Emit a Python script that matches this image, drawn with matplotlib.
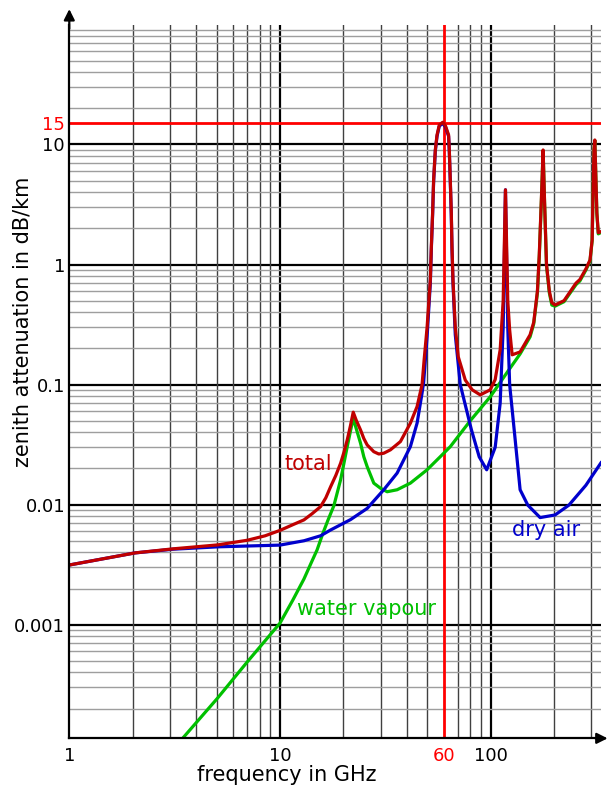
import matplotlib
matplotlib.use("Agg")
import matplotlib.pyplot as plt
from matplotlib.ticker import LogLocator, NullFormatter, FixedLocator

# ---- data (frequency in GHz, attenuation in dB/km) ----
total_f = [1.0, 2.05, 3.1, 5.07, 7.0, 8.5, 10.0, 11.5, 12.99, 14.2, 15.58, 16.5, 17.39,
           18.4, 19.39, 20.1, 20.85, 21.6, 22.26, 23.0, 24.11, 25.0, 25.93, 27.87, 29.43,
           31.08, 33.43, 37.28, 41.57, 44.73, 47.23, 48.3, 49.9, 51.7, 52.27, 53.0, 53.59,
           54.59, 55.62, 57.0, 59.13, 61.0, 63.12, 63.61, 64.3, 65.01, 65.5, 66.22, 67.9,
           70.17, 75.74, 81.73, 89.18, 99.46, 105.0, 110.9, 114.6, 117.5, 120.5, 123.0,
           126.4, 137.9, 153.8, 160.0, 166.6, 170.0, 174.0, 177.3, 180.0, 184.0, 189.8,
           195.0, 202.0, 222.8, 254.0, 265.0, 283.0, 296.0, 303.0, 306.0, 309.0, 312.0,
           315.0, 319.0, 324.0, 333.7]
total_v = [0.00314, 0.00396, 0.00428, 0.00462, 0.00505, 0.0055, 0.0061, 0.0068, 0.00746,
           0.0084, 0.00962, 0.0114, 0.0141, 0.0175, 0.0221, 0.0272, 0.0346, 0.0455, 0.0589,
           0.0505, 0.0419, 0.0355, 0.0314, 0.0276, 0.0264, 0.0268, 0.0286, 0.0335, 0.0477,
           0.0656, 0.1, 0.16, 0.3, 0.746, 1.41, 2.7, 5.08, 9.0, 12.0, 14.5, 15.3, 14.3,
           12.0, 9.0, 5.08, 2.7, 1.41, 0.746, 0.3, 0.17, 0.109, 0.0904, 0.0821, 0.0904,
           0.11, 0.195, 0.5, 4.19, 0.5, 0.286, 0.177, 0.187, 0.26, 0.33, 0.6, 1.2, 3.5, 9.0,
           3.5, 1.0, 0.6, 0.48, 0.46, 0.5, 0.7, 0.75, 0.92, 1.09, 1.6, 4.0, 9.0, 10.9, 6.0,
           2.7, 1.84, 1.88]

dry_f = [1.0, 2.05, 3.1, 5.07, 10.0, 13.0, 15.58, 17.39, 21.61, 25.93, 31.08, 35.96,
         41.57, 44.73, 47.23, 48.07, 49.9, 51.7, 52.27, 53.0, 53.59, 54.59, 55.62, 57.0,
         59.13, 61.0, 63.12, 63.61, 64.3, 65.01, 65.5, 66.22, 67.9, 71.7, 81.0, 88.2, 95.7,
         105.0, 110.9, 114.6, 117.5, 120.5, 123.0, 130.6, 137.9, 150.0, 171.6, 202.0,
         235.0, 283.0, 333.7]
dry_v = [0.00314, 0.00396, 0.00425, 0.00445, 0.0046, 0.0050, 0.0055, 0.00615, 0.0075,
         0.0093, 0.0133, 0.0183, 0.0304, 0.0477, 0.085, 0.105, 0.25, 0.7, 1.35, 2.6, 4.9,
         8.8, 11.7, 14.2, 15.0, 14.0, 11.7, 8.8, 4.9, 2.6, 1.35, 0.7, 0.26, 0.1, 0.042,
         0.025, 0.0195, 0.03, 0.07, 0.3, 4.19, 0.3, 0.1, 0.035, 0.0133, 0.0099, 0.0078,
         0.0082, 0.0099, 0.0145, 0.0223]

wv_f = [3.3, 3.45, 5.05, 7.01, 10.0, 11.5, 12.99, 14.2, 15.0, 16.0, 16.88, 18.02, 19.39,
        20.1, 20.85, 21.6, 22.26, 23.0, 24.11, 25.0, 25.93, 27.87, 29.98, 32.25, 35.96,
        41.57, 49.88, 57.67, 64.3, 80.0, 100.0, 121.0, 137.9, 153.8, 160.0, 166.6, 170.0,
        174.0, 177.3, 180.0, 184.0, 189.8, 195.0, 202.0, 222.8, 254.0, 265.0, 283.0,
        296.0, 303.0, 306.0, 309.0, 312.0, 315.0, 319.0, 324.0, 333.7]
wv_v = [0.000103, 0.000113, 0.000244, 0.000492, 0.00103, 0.0016, 0.0024, 0.0034,
        0.0042, 0.0058, 0.0074, 0.0098, 0.0161, 0.022, 0.0304, 0.041, 0.0525, 0.043,
        0.0325, 0.025, 0.0207, 0.0151, 0.0137, 0.0128, 0.0133, 0.0151, 0.0195, 0.0251,
        0.0304, 0.05, 0.08, 0.13, 0.18, 0.25, 0.32, 0.58, 1.15, 3.4, 8.9, 3.4, 0.98, 0.58,
        0.46, 0.45, 0.49, 0.68, 0.73, 0.9, 1.07, 1.58, 3.9, 8.9, 10.8, 5.9, 2.65, 1.8, 1.85]

x_ticks = [1, 10, 60, 100]
x_tick_labels = ["1", "10", "60", "100"]
y_ticks = [0.001, 0.01, 0.1, 1, 10, 15]
y_tick_labels = ["0.001", "0.01", "0.1", "1", "10", "15"]
decades_x = [10, 100]
decades_y = [0.001, 0.01, 0.1, 1, 10]
mark_f = 60
mark_v = 15

# ---- plotting ----
fig = plt.figure(figsize=(6.11, 7.9), dpi=100)
ax = fig.add_axes([0.1134, 0.0654, 0.8702, 0.903])
ax.set_xscale("log")
ax.set_yscale("log")
ax.set_xlim(1, 333.7)
ax.set_ylim(1.13e-4, 99)

# grid
ax.xaxis.set_minor_locator(LogLocator(base=10, subs=range(2, 10)))
ax.yaxis.set_minor_locator(LogLocator(base=10, subs=range(2, 10)))
ax.xaxis.set_minor_formatter(NullFormatter())
ax.yaxis.set_minor_formatter(NullFormatter())
ax.grid(False)
ax.grid(True, which="minor", axis="x", color="0.25", lw=1.0, zorder=0)
ax.grid(True, which="minor", axis="y", color="0.62", lw=1.0, zorder=0)
for v in decades_x:
    ax.axvline(v, color="black", lw=1.6, zorder=1)
for v in decades_y:
    ax.axhline(v, color="black", lw=1.6, zorder=1)

ax.axvline(mark_f, color="#ff0000", lw=2, zorder=2)
ax.axhline(mark_v, color="#ff0000", lw=2, zorder=2)

# curves
ax.plot(wv_f, wv_v, color="#00c000", lw=2.3, zorder=3)
ax.plot(dry_f, dry_v, color="#0000cc", lw=2.3, zorder=4)
ax.plot(total_f, total_v, color="#c00000", lw=2.3, zorder=5)

ax.text(13.67, 0.0217, "total", color="#c00000", fontsize=15, ha="center", va="center")
ax.text(183, 0.00615, "dry air", color="#0000cc", fontsize=15, ha="center", va="center")
ax.text(25.7, 0.00135, "water vapour", color="#00c000", fontsize=15, ha="center", va="center")

# ticks
ax.xaxis.set_major_locator(FixedLocator(x_ticks))
ax.set_xticklabels(x_tick_labels)
ax.yaxis.set_major_locator(FixedLocator(y_ticks))
ax.set_yticklabels(y_tick_labels)
ax.tick_params(which="both", length=0, labelsize=13, colors="black")
ax.tick_params(axis="x", pad=6)
ax.tick_params(axis="y", pad=3)
ax.get_xticklabels()[2].set_color("#ff0000")
ax.get_yticklabels()[5].set_color("#ff0000")

for s in ["top", "right"]:
    ax.spines[s].set_visible(False)
for s in ["left", "bottom"]:
    ax.spines[s].set_linewidth(1.6)
    ax.spines[s].set_zorder(6)

# axis arrows
ax.annotate("", xy=(0.1134, 0.992), xycoords="figure fraction", xytext=(0.1134, 0.96),
            arrowprops=dict(arrowstyle="-|>", color="black", lw=1.6, mutation_scale=16))
ax.annotate("", xy=(0.999, 0.0654), xycoords="figure fraction", xytext=(0.97, 0.0654),
            arrowprops=dict(arrowstyle="-|>", color="black", lw=1.6, mutation_scale=16))

fig.text(287 / 611, 1 - 775 / 790, "frequency in GHz", fontsize=15, ha="center", va="center")
fig.text(23 / 611, 1 - 322 / 790, "zenith attenuation in dB/km", fontsize=15,
         rotation=90, ha="center", va="center")

fig.savefig("out.png", dpi=100)
